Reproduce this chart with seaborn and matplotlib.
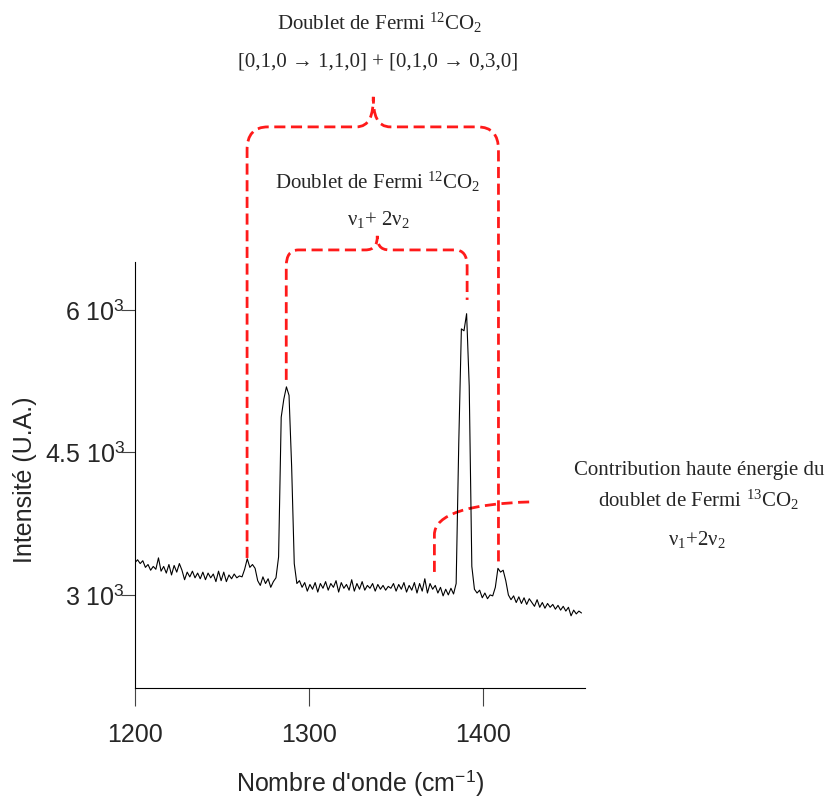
import numpy as np
import matplotlib.pyplot as plt
import seaborn as sns
from matplotlib.path import Path
from matplotlib.patches import PathPatch

wavenumber = np.arange(1200, 1457, 1.5)
intensity = [
    3340, 3370, 3330, 3360, 3290, 3320, 3260, 3300, 3270, 3390,
    3250, 3300, 3230, 3320, 3210, 3310, 3240, 3330, 3260, 3160,
    3240, 3190, 3250, 3180, 3230, 3170, 3240, 3160, 3230, 3180,
    3220, 3140, 3250, 3150, 3240, 3140, 3210, 3170, 3220, 3180,
    3200, 3190, 3270, 3380, 3290, 3320, 3280, 3150, 3100, 3190,
    3120, 3170, 3080, 3140, 3180, 3400, 4870, 5060, 5190, 5100,
    4350, 3330, 3120, 3150, 3080, 3130, 3040, 3110, 3060, 3130,
    3030, 3120, 3070, 3140, 3050, 3120, 3080, 3150, 3030, 3130,
    3070, 3110, 3050, 3160, 3040, 3120, 3060, 3140, 3050, 3100,
    3070, 3120, 3040, 3110, 3060, 3100, 3050, 3090, 3070, 3120,
    3040, 3110, 3060, 3130, 3030, 3100, 3050, 3130, 3020, 3120,
    3040, 3170, 3020, 3120, 3060, 3100, 3020, 3080, 2990, 3060,
    3000, 3070, 3010, 3120, 4600, 5800, 5780, 5960, 5200, 3300,
    3060, 3020, 3050, 2970, 3020, 2960, 3000, 2990, 3080, 3280,
    3240, 3260, 3150, 3000, 2950, 2990, 2920, 2980, 2910, 2970,
    2900, 2960, 2920, 2880, 2950, 2870, 2920, 2860, 2910, 2870,
    2900, 2850, 2890, 2840, 2880, 2830, 2870, 2780, 2840, 2800,
    2830, 2810,
]

xticks = [1200, 1300, 1400]
yticks = [3000, 4500, 6000]
ytick_labels = [r"3 10$^\mathsf{3}$", r"4.5 10$^\mathsf{3}$", r"6 10$^\mathsf{3}$"]

sns.set_style("ticks")
plt.rcParams["font.family"] = ["Liberation Sans", "DejaVu Sans"]
plt.rcParams["mathtext.fontset"] = "custom"
plt.rcParams["mathtext.rm"] = "Liberation Serif"
plt.rcParams["mathtext.it"] = "Liberation Serif:italic"
plt.rcParams["mathtext.sf"] = "Liberation Sans"

fig = plt.figure(figsize=(8.28, 7.98), dpi=100)
ax = fig.add_axes([0.163, 0.1378, 0.5435, 0.534])

sns.lineplot(x=wavenumber, y=intensity, ax=ax, color="black", lw=0.8, sort=False)

ax.set_xlim(1200, 1458.5)
ax.set_ylim(2020, 6505)
ax.set_xticks(xticks)
ax.set_xticklabels([str(t) for t in xticks])
ax.set_yticks(yticks)
ax.set_yticklabels(ytick_labels)
sns.despine(ax=ax)
for s in ["left", "bottom"]:
    ax.spines[s].set_linewidth(0.8)
    ax.spines[s].set_color("black")
ax.tick_params(axis="x", length=13, width=0.8, pad=12, labelsize=18, color="#444444")
ax.tick_params(axis="y", length=10, width=0.8, pad=-3, labelsize=18, color="#444444")

ax.set_xlabel("Nombre d'onde (cm$^\\mathsf{-1}$)", fontsize=18)
ax.set_ylabel("Intensité (U.A.)", fontsize=18)
ax.xaxis.set_label_coords(0.5, -0.188)
ax.yaxis.set_label_coords(-0.218, 0.488)


# red dashed brackets (annotation, data coordinates, drawn outside the axes)
def bracket(left, right, ybot_l, ybot_r, yh, apex_x, apex_y, rx, ry, b):
    verts = [(left, ybot_l), (left, yh - ry), (left, yh), (left + rx, yh),
             (apex_x - b, yh), (apex_x - 0.2 * b, yh), (apex_x, yh + 0.4 * (apex_y - yh)), (apex_x, apex_y),
             (apex_x, yh + 0.4 * (apex_y - yh)), (apex_x + 0.2 * b, yh), (apex_x + b, yh),
             (right - rx, yh), (right, yh), (right, yh - ry), (right, ybot_r)]
    codes = [Path.MOVETO, Path.LINETO, Path.CURVE3, Path.CURVE3,
             Path.LINETO, Path.CURVE4, Path.CURVE4, Path.CURVE4,
             Path.CURVE4, Path.CURVE4, Path.CURVE4,
             Path.LINETO, Path.CURVE3, Path.CURVE3, Path.LINETO]
    return Path(verts, codes)


dash = dict(fill=False, edgecolor="#ff1a1a", lw=2, ls=(0, (4, 2)), clip_on=False)
ax.add_patch(PathPatch(bracket(1264.4, 1408.8, 3389, 3347, 7926, 1336.9, 8242, 12, 240, 10), **dash))
ax.add_patch(PathPatch(bracket(1286.9, 1390.8, 5263, 6105, 6631, 1339.2, 6779, 7, 170, 7), **dash))
p13 = Path([(1372, 3242), (1372, 3632), (1372, 3850), (1392, 3960), (1427.2, 3979)],
           [Path.MOVETO, Path.LINETO, Path.CURVE4, Path.CURVE4, Path.CURVE4])
ax.add_patch(PathPatch(p13, **dash))

# annotation texts (serif)
W, H = 828, 798
serif = dict(family=["Liberation Serif", "DejaVu Serif"], fontsize=15, ha="center", va="center")
fig.text(380 / W, 1 - 23 / H, r"Doublet de Fermi $^{12}$CO$_{2}$", **serif)
fig.text(378 / W, 1 - 62 / H, "[0,1,0 → 1,1,0] + [0,1,0 → 0,3,0]", **serif)
fig.text(378 / W, 1 - 182 / H, r"Doublet de Fermi $^{12}$CO$_{2}$", **serif)
fig.text(378 / W, 1 - 219 / H, r"ν$_{1}$+ 2ν$_{2}$", **serif)
fig.text(699 / W, 1 - 471 / H, "Contribution haute énergie du", **serif)
fig.text(698 / W, 1 - 500 / H, r"doublet de Fermi $^{13}$CO$_{2}$", **serif)
fig.text(697 / W, 1 - 539 / H, r"ν$_{1}$+2ν$_{2}$", **serif)

fig.savefig("out.png", dpi=100)
